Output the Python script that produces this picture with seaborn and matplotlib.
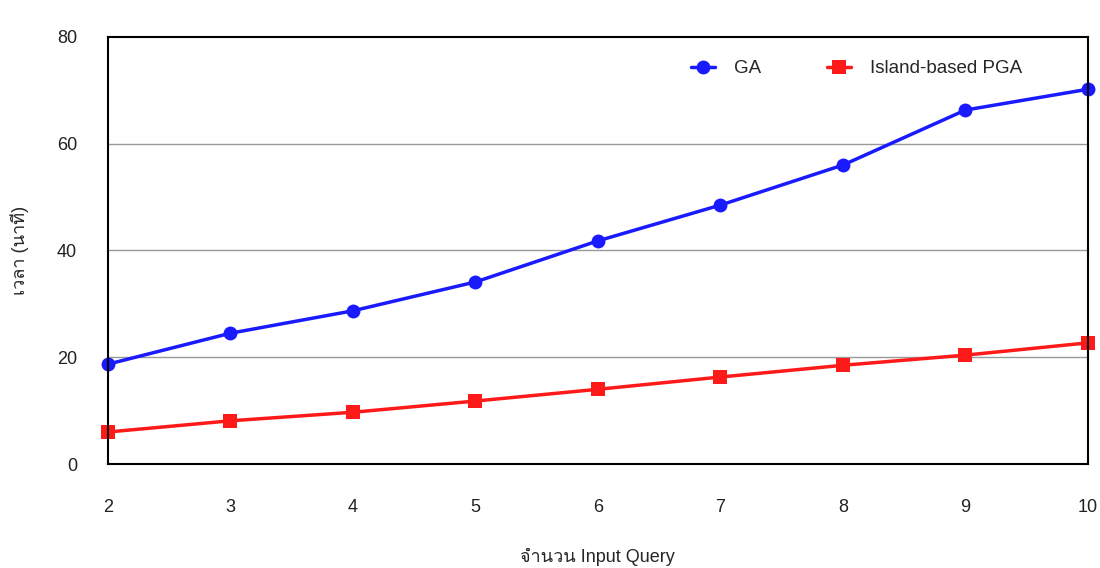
import matplotlib
matplotlib.use("Agg")
import matplotlib.pyplot as plt
from matplotlib import font_manager
import pandas as pd
import seaborn as sns

queries = [2, 3, 4, 5, 6, 7, 8, 9, 10]
ga = [18.7, 24.5, 28.7, 34.1, 41.8, 48.5, 56.0, 66.3, 70.2]
pga = [6.0, 8.1, 9.7, 11.8, 14.0, 16.3, 18.5, 20.4, 22.7]

df = pd.DataFrame({'Query': queries * 2,
                   'Time': ga + pga,
                   'Method': ['GA'] * len(ga) + ['Island-based PGA'] * len(pga)})

sns.set_style("white")
# look for any installed family that has Thai glyphs
fams = ['Liberation Sans', 'DejaVu Sans']
for f in font_manager.fontManager.ttflist:
    if 'Thai' in f.name or 'Garuda' in f.name or 'Loma' in f.name:
        fams.insert(1, f.name)
        break
plt.rcParams['font.family'] = fams

fig, ax = plt.subplots(figsize=(11, 5.68), dpi=100)
sns.lineplot(data=df, x='Query', y='Time', hue='Method', style='Method',
             markers={'GA': 'o', 'Island-based PGA': 's'}, dashes=False,
             palette={'GA': '#1a1aff', 'Island-based PGA': '#ff1a1a'},
             markersize=10, markeredgewidth=0, linewidth=2.5, ax=ax)

ax.set_xlim(2, 10)
ax.set_ylim(0, 80)
ax.set_xticks(queries)
ax.set_yticks([0, 20, 40, 60, 80])
for v in [20, 40, 60]:
    ax.axhline(v, color='#999999', linewidth=1, zorder=0)
for s in ax.spines.values():
    s.set_color('black')
    s.set_linewidth(1.5)
    s.set_visible(True)
ax.tick_params(axis='x', pad=25, labelsize=13, length=0, colors='#222222')
ax.tick_params(axis='y', pad=22, labelsize=13, length=0, colors='#222222')
ax.set_xlabel('จำนวน Input Query', fontsize=13, labelpad=23)
ax.set_ylabel('เวลา (นาที)', fontsize=13, labelpad=20)
for m in ax.lines:
    m.set_clip_on(False)

ax.legend(loc='upper right', ncol=2, frameon=False, fontsize=13.5,
          bbox_to_anchor=(0.95, 0.985), columnspacing=3.5, handlelength=1.3,
          handletextpad=1.0)

fig.subplots_adjust(left=0.098, right=0.989, top=0.935, bottom=0.183)
fig.savefig('out.png', dpi=100)
